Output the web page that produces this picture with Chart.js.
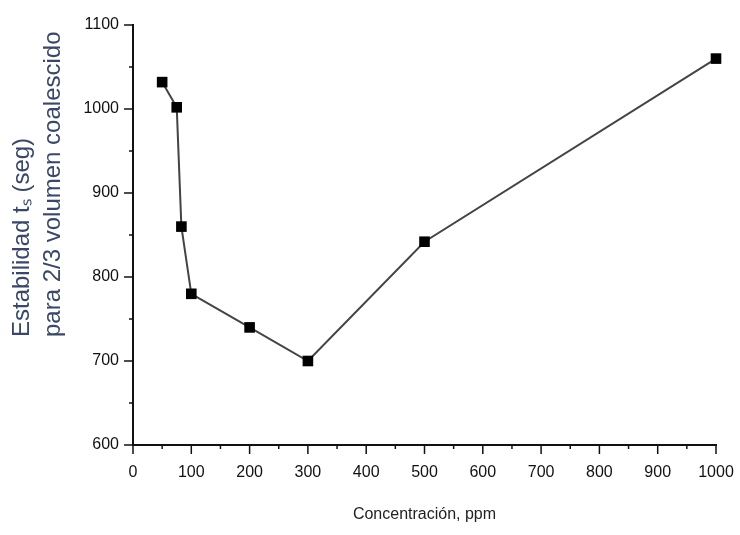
<!DOCTYPE html>
<html>
<head>
<meta charset="utf-8">
<script src="https://cdn.jsdelivr.net/npm/chart.js@4.4.1/dist/chart.umd.min.js"></script>
<style>
  html, body { margin: 0; padding: 0; background: #fff; }
  #wrap { width: 740px; height: 535px; }
</style>
</head>
<body>
<div id="wrap"><canvas id="grafico"></canvas></div>
<script>
// Datos
const concentracion = [50, 75, 83, 100, 200, 300, 500, 1000];
const estabilidad = [1032, 1002, 860, 780, 740, 700, 842, 1060];

const tituloX = 'Concentración, ppm';
const tituloY = ['Estabilidad tₛ (seg)', 'para 2/3 volumen coalescido'];

const fuente = '"Liberation Sans", Arial, sans-serif';

// Marcas de los ejes: largas cada 100, cortas cada 50
const marcasEjes = {
    id: 'marcasEjes',
    afterDraw(chart) {
        const ctx = chart.ctx;
        const x = chart.scales.x;
        const y = chart.scales.y;
        const area = chart.chartArea;
        ctx.save();
        ctx.strokeStyle = '#111';
        ctx.lineWidth = 1.5;
        x.ticks.forEach(t => {
            const px = x.getPixelForValue(t.value);
            const largo = t.value % 100 === 0 ? 9 : 4;
            ctx.beginPath();
            ctx.moveTo(px, area.bottom);
            ctx.lineTo(px, area.bottom + largo);
            ctx.stroke();
        });
        y.ticks.forEach(t => {
            const py = y.getPixelForValue(t.value);
            const largo = t.value % 100 === 0 ? 9 : 4;
            ctx.beginPath();
            ctx.moveTo(area.left, py);
            ctx.lineTo(area.left - largo, py);
            ctx.stroke();
        });

        // título del eje y, dos líneas alineadas abajo
        ctx.fillStyle = '#3a4766';
        ctx.font = '24px ' + fuente;
        ctx.textAlign = 'left';
        ctx.textBaseline = 'alphabetic';
        const base = [29, 60];
        tituloY.forEach((linea, i) => {
            ctx.save();
            ctx.translate(base[i], 337);
            ctx.rotate(-Math.PI / 2);
            ctx.fillText(linea, 0, 0);
            ctx.restore();
        });
        ctx.restore();
    }
};

const ctx = document.getElementById('grafico').getContext('2d');

const grafico = new Chart(ctx, {
    type: 'line',
    data: {
        datasets: [{
            data: concentracion.map((c, i) => ({ x: c, y: estabilidad[i] })),
            borderColor: '#444',
            borderWidth: 2,
            pointStyle: 'rect',
            pointRadius: 7.5,
            pointHoverRadius: 7.5,
            pointBackgroundColor: '#000',
            pointBorderColor: '#000',
            pointBorderWidth: 0,
            tension: 0,
            clip: false,
        }],
    },
    options: {
        responsive: true,
        maintainAspectRatio: false,
        animation: false,
        layout: {
            padding: { top: 25, right: 24, left: 0, bottom: 0 },
        },
        plugins: {
            legend: { display: false },
            tooltip: { enabled: false },
        },
        scales: {
            x: {
                type: 'linear',
                min: 0,
                max: 1000,
                grid: { display: false, drawTicks: false },
                border: { display: true, color: '#111', width: 2 },
                ticks: {
                    stepSize: 50,
                    autoSkip: false,
                    maxRotation: 0,
                    padding: 18,
                    color: '#111',
                    font: { family: fuente, size: 16 },
                    callback: v => (v % 100 === 0 ? v : ''),
                },
                title: {
                    display: true,
                    text: tituloX,
                    color: '#222',
                    font: { family: fuente, size: 16 },
                    padding: { top: 0, bottom: 11 },
                },
                afterFit: scale => {
                    scale.height = 90;
                    scale.paddingLeft = 0;
                    scale.paddingRight = 0;
                },
            },
            y: {
                min: 600,
                max: 1100,
                grid: { display: false, drawTicks: false },
                border: { display: true, color: '#111', width: 2 },
                ticks: {
                    stepSize: 50,
                    autoSkip: false,
                    padding: 14,
                    color: '#111',
                    font: { family: fuente, size: 16 },
                    callback: v => (v % 100 === 0 ? v : ''),
                },
                afterFit: scale => {
                    scale.width = 133;
                    scale.paddingTop = 0;
                    scale.paddingBottom = 0;
                },
            },
        },
    },
    plugins: [marcasEjes],
});
</script>
</body>
</html>
